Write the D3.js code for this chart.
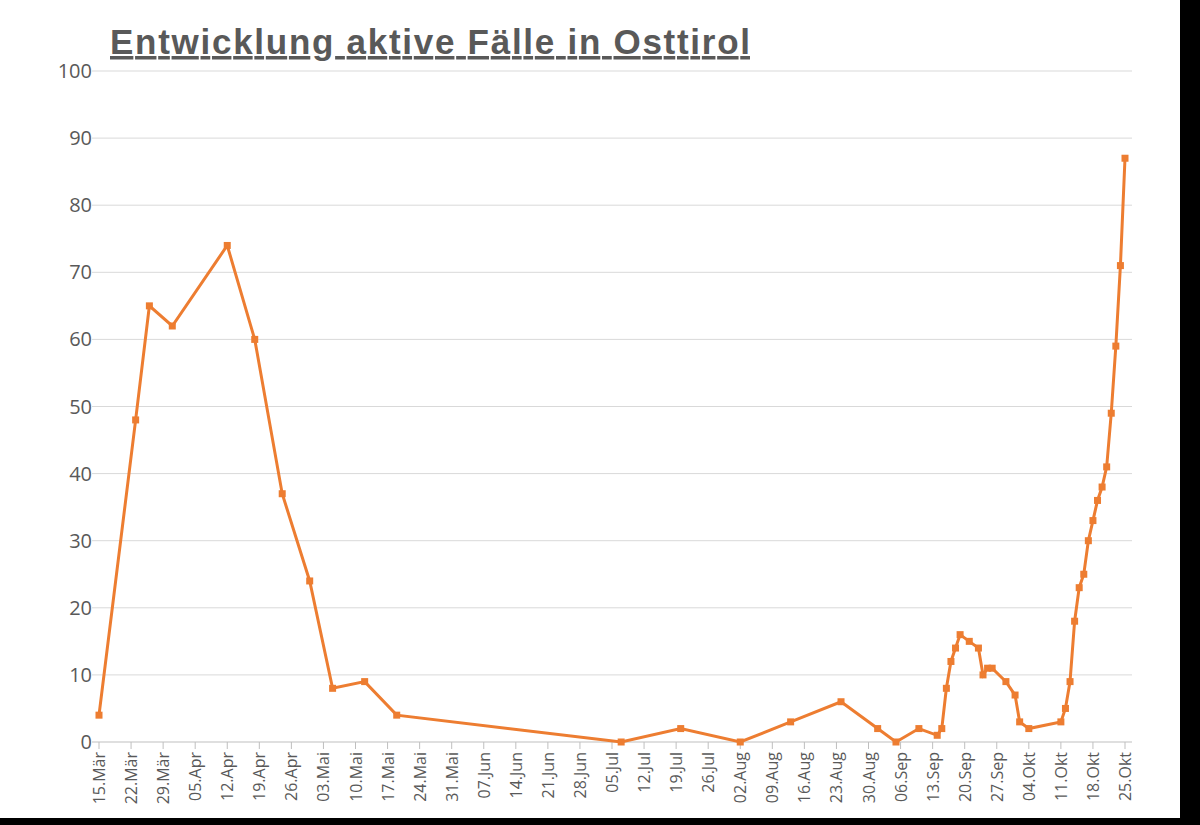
<!DOCTYPE html>
<html><head><meta charset="utf-8">
<script src="https://cdn.jsdelivr.net/npm/d3@7"></script>
<style>body{margin:0;background:#000}svg{display:block}</style>
</head><body>
<script>
const days = [0,8,11,16,28,34,40,46,51,58,65,114,127,140,151,162,170,174,179,183,184,185,186,187,188,190,192,193,194,195,198,200,201,203,210,211,212,213,214,215,216,217,218,219,220,221,222,223,224];
const cases = [4,48,65,62,74,60,37,24,8,9,4,0,2,0,3,6,2,0,2,1,2,8,12,14,16,15,14,10,11,11,9,7,3,2,3,5,9,18,23,25,30,33,36,38,41,49,59,71,87];
const tickLabels = ["15.Mär","22.Mär","29.Mär","05.Apr","12.Apr","19.Apr","26.Apr","03.Mai","10.Mai","17.Mai","24.Mai","31.Mai","07.Jun","14.Jun","21.Jun","28.Jun","05.Jul","12.Jul","19.Jul","26.Jul","02.Aug","09.Aug","16.Aug","23.Aug","30.Aug","06.Sep","13.Sep","20.Sep","27.Sep","04.Okt","11.Okt","18.Okt","25.Okt"];
const yTicks = [0,10,20,30,40,50,60,70,80,90,100];

const W=1200,H=825;
const svg=d3.select("body").append("svg").attr("width",W).attr("height",H);
svg.append("rect").attr("width",1180).attr("height",818).attr("fill","#fff");
const x=d3.scaleLinear().domain([0,224]).range([99,1125]);
const y=d3.scaleLinear().domain([0,100]).range([742,71]);
const grey="#595959";

svg.append("g").selectAll("line").data(yTicks.slice(1)).join("line")
 .attr("x1",92).attr("x2",1132).attr("y1",d=>y(d)).attr("y2",d=>y(d)).attr("stroke","#d9d9d9");
svg.append("g").selectAll("text").data(yTicks).join("text")
 .attr("x",92).attr("y",d=>y(d)+7).attr("text-anchor","end")
 .attr("font-family","Open Sans, Liberation Sans").attr("font-size",20).attr("fill",grey).text(d=>d);
svg.append("line").attr("x1",92).attr("x2",1132).attr("y1",742).attr("y2",742).attr("stroke","#bfbfbf");
const tg=svg.append("g");
tickLabels.forEach((t,i)=>{
  const xp=x(i*7);
  tg.append("line").attr("x1",xp).attr("x2",xp).attr("y1",742).attr("y2",749).attr("stroke","#bfbfbf");
  tg.append("text").attr("transform",`translate(${xp+6},752) rotate(-90)`).attr("text-anchor","end")
   .attr("font-family","Open Sans, Liberation Sans").attr("font-size",16).attr("fill",grey).text(t);
});
const pts=days.map((d,i)=>[d,cases[i]]);
svg.append("path").datum(pts).attr("fill","none").attr("stroke","#ed7d31").attr("stroke-width",3)
 .attr("d",d3.line().x(d=>x(d[0])).y(d=>y(d[1])));
svg.append("g").selectAll("rect").data(pts).join("rect")
 .attr("x",d=>x(d[0])-3.5).attr("y",d=>y(d[1])-3.5).attr("width",7).attr("height",7).attr("fill","#ed7d31");
svg.append("text").attr("x",110).attr("y",54).attr("font-family","Liberation Sans, Arial").attr("font-weight","bold")
 .attr("font-size",35).attr("fill",grey).attr("text-decoration","underline")
 .attr("textLength",640).attr("lengthAdjust","spacing").text("Entwicklung aktive Fälle in Osttirol");
</script>
</body></html>
